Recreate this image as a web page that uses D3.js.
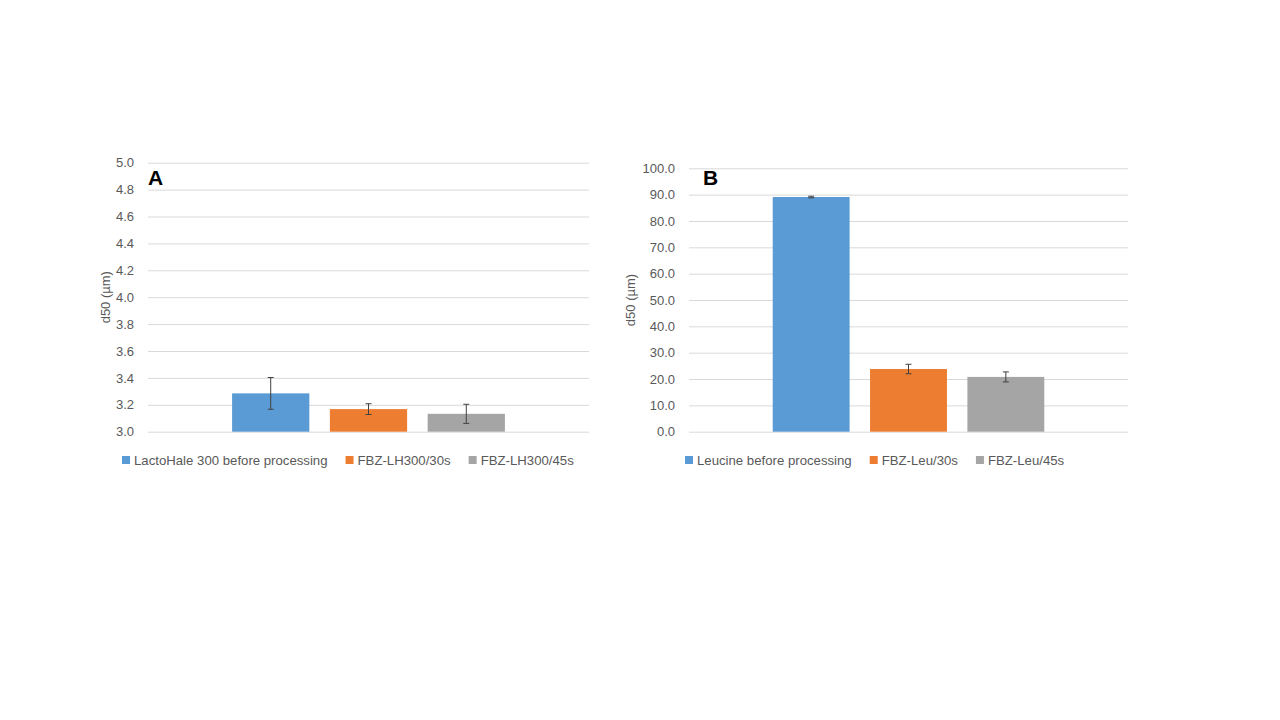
<!DOCTYPE html>
<html>
<head>
<meta charset="utf-8">
<script src="https://cdn.jsdelivr.net/npm/d3@7"></script>
<style>
  body { margin: 0; background: #fff; }
  svg text { font-family: "Liberation Sans", Arial, sans-serif; }
</style>
</head>
<body>
<svg id="chart" width="1280" height="720"></svg>
<script>
// panel A: lactose
var seriesA = ["LactoHale 300 before processing", "FBZ-LH300/30s", "FBZ-LH300/45s"];
var valuesA = [3.285, 3.168, 3.133];
var errorsA = [0.118, 0.040, 0.071];
var ticksA = [3.0, 3.2, 3.4, 3.6, 3.8, 4.0, 4.2, 4.4, 4.6, 4.8, 5.0];

// panel B: leucine
var seriesB = ["Leucine before processing", "FBZ-Leu/30s", "FBZ-Leu/45s"];
var valuesB = [89.1, 23.8, 20.8];
var errorsB = [0.3, 1.8, 1.9];
var ticksB = [0, 10, 20, 30, 40, 50, 60, 70, 80, 90, 100];

var colors = ["#5B9BD5", "#ED7D31", "#A5A5A5"];

var svg = d3.select("#chart");

function drawPanel(p)
{
    var g = svg.append("g");

    var y = d3.scaleLinear()
        .domain([p.ticks[0], p.ticks[p.ticks.length - 1]])
        .range([p.bottom, p.top]);
    var x = d3.scaleBand()
        .domain(p.series)
        .range([p.left, p.right])
        .paddingInner(0.21)
        .paddingOuter(0.86);

    // gridlines + tick labels
    var yAxis = d3.axisLeft(y)
        .tickValues(p.ticks)
        .tickSize(-(p.right - p.left))
        .tickPadding(14)
        .tickFormat(d3.format(".1f"));
    var ax = g.append("g")
        .attr("transform", "translate(" + p.left + ",0)")
        .call(yAxis);
    ax.select(".domain").remove();
    ax.selectAll(".tick line").attr("stroke", "#D9D9D9").attr("stroke-width", 1);
    ax.selectAll(".tick text")
        .attr("fill", "#595959")
        .attr("font-size", 13);

    // bars
    g.selectAll("rect.bar").data(p.values).enter()
        .append("rect")
        .attr("class", "bar")
        .attr("x", function(d, i) { return x(p.series[i]); })
        .attr("width", x.bandwidth())
        .attr("y", function(d) { return y(d); })
        .attr("height", function(d) { return y(p.ticks[0]) - y(d); })
        .attr("fill", function(d, i) { return colors[i]; });

    // error bars
    var cap = 3;
    var eb = g.selectAll("g.err").data(p.values).enter()
        .append("g")
        .attr("class", "err")
        .attr("stroke", "#404040")
        .attr("stroke-width", 1);
    eb.append("line")
        .attr("x1", function(d, i) { return x(p.series[i]) + x.bandwidth() / 2; })
        .attr("x2", function(d, i) { return x(p.series[i]) + x.bandwidth() / 2; })
        .attr("y1", function(d, i) { return y(d + p.errors[i]); })
        .attr("y2", function(d, i) { return y(d - p.errors[i]); });
    [1, -1].forEach(function(s) {
        eb.append("line")
            .attr("x1", function(d, i) { return x(p.series[i]) + x.bandwidth() / 2 - cap; })
            .attr("x2", function(d, i) { return x(p.series[i]) + x.bandwidth() / 2 + cap; })
            .attr("y1", function(d, i) { return y(d + s * p.errors[i]); })
            .attr("y2", function(d, i) { return y(d + s * p.errors[i]); });
    });

    // panel letter
    g.append("text")
        .attr("x", p.letterX)
        .attr("y", 185)
        .attr("font-size", 21)
        .attr("font-weight", "bold")
        .attr("fill", "#000")
        .text(p.letter);

    // y axis title
    g.append("text")
        .attr("transform", "translate(" + p.titleX + "," + ((p.top + p.bottom) / 2) + ") rotate(-90)")
        .attr("text-anchor", "middle")
        .attr("dy", "0.35em")
        .attr("font-size", 13)
        .attr("fill", "#595959")
        .text("d50 (\u00b5m)");

    // legend
    var lx = p.legendX;
    p.series.forEach(function(s, i) {
        g.append("rect")
            .attr("x", lx)
            .attr("y", p.legendY - 4)
            .attr("width", 8)
            .attr("height", 8)
            .attr("fill", colors[i]);
        var t = g.append("text")
            .attr("x", lx + 12)
            .attr("y", p.legendY)
            .attr("dy", "0.35em")
            .attr("font-size", 13.2)
            .attr("fill", "#595959")
            .text(s);
        lx += 12 + t.node().getComputedTextLength() + 18;
    });
}

drawPanel({
    letter: "A", series: seriesA, values: valuesA, errors: errorsA, ticks: ticksA,
    left: 148, right: 589, top: 162.7, bottom: 431.7,
    letterX: 148, titleX: 105, legendX: 122, legendY: 460
});
drawPanel({
    letter: "B", series: seriesB, values: valuesB, errors: errorsB, ticks: ticksB,
    left: 689, right: 1128, top: 168.3, bottom: 431.7,
    letterX: 703, titleX: 630, legendX: 685, legendY: 460
});
</script>
</body>
</html>
